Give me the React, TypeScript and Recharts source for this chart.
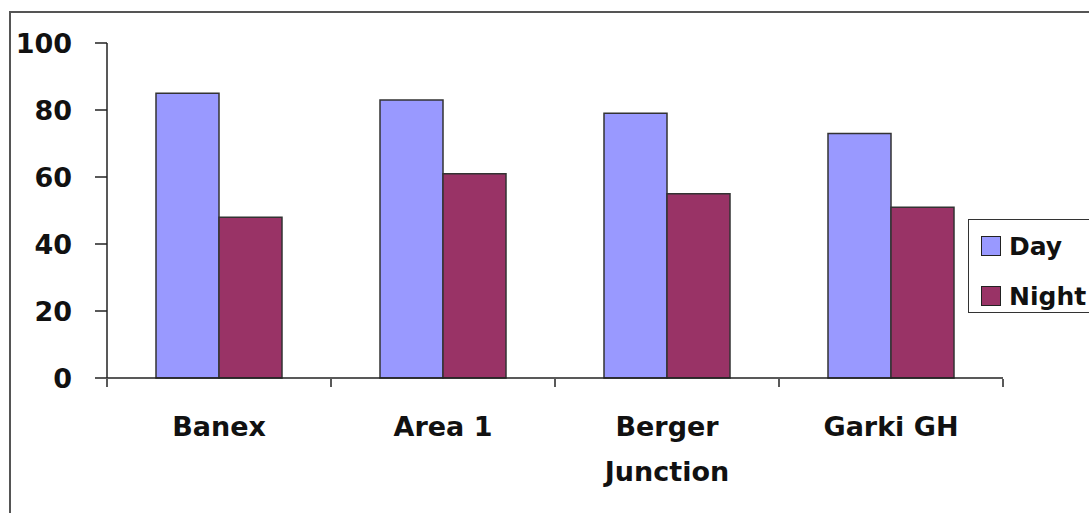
import React from 'react';
import { BarChart, Bar, XAxis, YAxis } from 'recharts';

const categories = ['Banex', 'Area 1', 'Berger\nJunction', 'Garki GH'];
const dayValues = [85, 83, 79, 73];
const nightValues = [48, 61, 55, 51];
const yTicks = [0, 20, 40, 60, 80, 100];
const edgeTicks = [0, 1, 2, 3, 4];

const DAY = '#9999ff';
const NIGHT = '#993366';
const FONT = '"DejaVu Sans", Verdana, sans-serif';

const data = categories.map((name, i) => ({
  name,
  idx: i + 0.5,
  Day: dayValues[i],
  Night: nightValues[i],
}));

const CategoryTick = (props: any) => {
  const { x, y, payload } = props;
  const lines = String(payload.value).split('\n');
  return (
    <g transform={`translate(${x},${y})`}>
      {lines.map((ln, i) => (
        <text
          key={i}
          x={0}
          y={50 + i * 45}
          textAnchor="middle"
          fill="#111"
          fontFamily={FONT}
          fontWeight="bold"
          fontSize={27}
        >
          {ln}
        </text>
      ))}
    </g>
  );
};

const NoLabel = () => <g />;

const LegendBox = () => (
  <div
    style={{
      position: 'absolute',
      left: 968,
      top: 219,
      border: '1.5px solid #333',
      background: '#fff',
      width: 140,
      height: 94,
      boxSizing: 'border-box',
      fontFamily: FONT,
      fontWeight: 'bold',
      fontSize: 25,
      color: '#111',
      paddingLeft: 12,
      paddingTop: 8,
    }}
  >
    {[{ name: 'Day', c: DAY }, { name: 'Night', c: NIGHT }].map((it) => (
      <div key={it.name} style={{ display: 'flex', alignItems: 'center', height: 36, marginBottom: 14 }}>
        <span style={{ width: 18, height: 18, background: it.c, border: '1.5px solid #222', marginRight: 8 }} />
        <span>{it.name}</span>
      </div>
    ))}
  </div>
);

export default function App() {
  return (
    <div style={{ position: 'absolute', left: 0, top: 0, width: 1089, height: 513, background: '#fff', overflow: 'hidden' }}>
      <div
        style={{
          position: 'absolute',
          left: 9,
          top: 11,
          width: 1200,
          height: 600,
          borderTop: '2px solid #555',
          borderLeft: '2px solid #555',
        }}
      />
      <div style={{ position: 'absolute', left: 0, top: 0 }}>
        <BarChart
          width={1089}
          height={513}
          data={data}
          margin={{ top: 43, right: 86, left: 0, bottom: 34 }}
          barGap={0}
          barSize={63}
        >
          <XAxis
            xAxisId="edges"
            type="number"
            dataKey="idx"
            domain={[0, 4]}
            ticks={edgeTicks}
            interval={0}
            tick={<NoLabel />}
            tickSize={8}
            height={100}
            axisLine={false}
            tickLine={{ stroke: '#222', strokeWidth: 1.5 }}
          />
          <XAxis
            dataKey="name"
            interval={0}
            height={1}
            tickLine={false}
            axisLine={{ stroke: '#222', strokeWidth: 1.5 }}
            tick={<CategoryTick />}
          />
          <YAxis
            width={107}
            domain={[0, 100]}
            ticks={yTicks}
            interval={0}
            tickSize={12}
            tickMargin={23}
            axisLine={{ stroke: '#222', strokeWidth: 1.5 }}
            tickLine={{ stroke: '#222', strokeWidth: 1.5 }}
            tick={{ fill: '#111', fontFamily: FONT, fontWeight: 'bold', fontSize: 27 }}
          />
          <Bar dataKey="Day" fill={DAY} stroke="#333" strokeWidth={1.5} isAnimationActive={false} />
          <Bar dataKey="Night" fill={NIGHT} stroke="#333" strokeWidth={1.5} isAnimationActive={false} />
        </BarChart>
      </div>
      <LegendBox />
    </div>
  );
}
